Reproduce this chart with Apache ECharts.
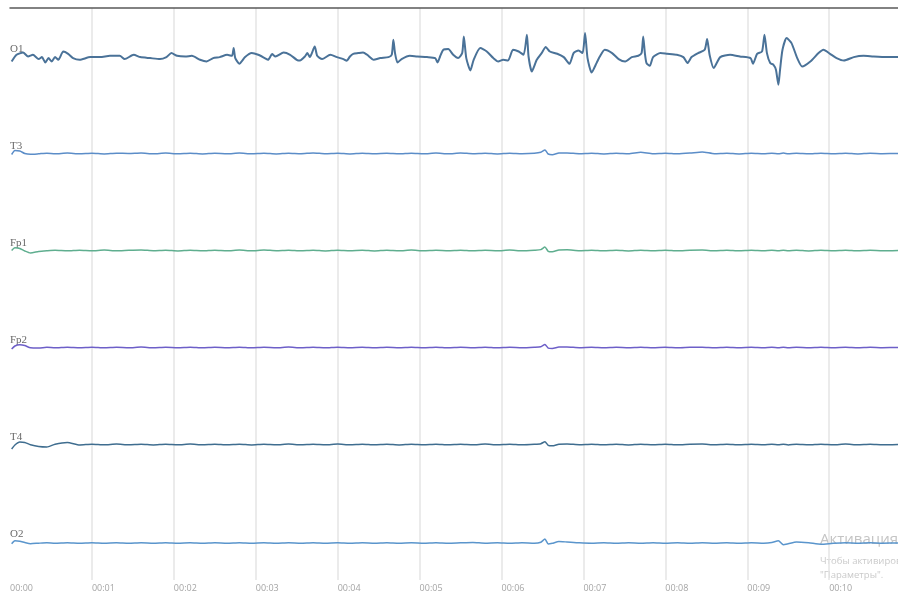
<!DOCTYPE html>
<html>
<head>
<meta charset="utf-8">
<script src="https://cdn.jsdelivr.net/npm/echarts@6/dist/echarts.min.js"></script>
<style>
html,body{margin:0;padding:0;background:#fff;}
#chart{width:898px;height:591px;}
</style>
</head>
<body>
<div id="chart"></div>
<script>
// Channel names (top to bottom)
const channels = ['O1', 'T3', 'Fp1', 'Fp2', 'T4', 'O2'];
const channelColors = ['#4a7298', '#5b8dc8', '#5fae8f', '#6d5fc8', '#3f6d8f', '#5a95cc'];

// Time tick labels (seconds)
const tickSeconds = [0, 1, 2, 3, 4, 5, 6, 7, 8, 9, 10];

// O1 samples: [time s, amplitude]
const o1Samples = [
  [0.02,-5],[0.08,1.7],[0.16,4],[0.22,0],[0.28,1.7],[0.35,-2.6],[0.39,-0.6],[0.43,-6],[0.47,-1.6],[0.51,-5],
  [0.55,-0.6],[0.59,-3.3],[0.65,5],[0.71,2.7],[0.77,-1.6],[0.85,-3.3],[0.98,-0.6],[1.10,-0.6],[1.22,0.7],[1.34,0.7],
  [1.40,-2.6],[1.51,1.7],[1.59,-0.6],[1.71,-1.6],[1.83,-2.6],[1.91,-0.6],[1.97,3.4],[2.04,0.7],[2.14,0],[2.22,0.7],
  [2.32,-3.3],[2.40,-5],[2.48,-1.6],[2.56,-0.6],[2.65,1.7],[2.71,0.7],[2.73,8.4],[2.75,-1.6],[2.80,-7.3],[2.87,-0.6],
  [2.95,3.4],[3.03,1.7],[3.11,-1.6],[3.15,-3.3],[3.20,2.4],[3.24,0],[3.34,4],[3.42,1.7],[3.50,-3.3],[3.54,-4],
  [3.60,0],[3.63,3.4],[3.66,-0.6],[3.72,10],[3.75,0.7],[3.81,-2.6],[3.91,1.7],[3.99,-0.6],[4.07,-2.6],[4.11,-4.3],
  [4.15,0],[4.19,2.7],[4.25,3.4],[4.31,4],[4.36,1.7],[4.44,-3.3],[4.52,-1.6],[4.62,-0.6],[4.66,1.7],[4.68,16.7],
  [4.70,3.4],[4.73,-6],[4.78,-2.6],[4.88,0.7],[4.97,0],[5.09,-0.6],[5.19,-1.6],[5.22,-6],[5.25,0],[5.29,6.7],
  [5.35,7.4],[5.41,1.7],[5.47,-1.6],[5.52,3.4],[5.54,20],[5.57,-1.6],[5.62,-14],[5.66,-3.3],[5.74,8.4],[5.82,5],
  [5.90,-1.6],[5.96,-5],[6.02,-3.3],[6.08,-4],[6.14,6.7],[6.21,5],[6.27,1.7],[6.31,21.7],[6.33,0],[6.37,-15],
  [6.43,-3.3],[6.49,3.4],[6.54,9.4],[6.59,5],[6.68,2.7],[6.76,-0.6],[6.83,-7.3],[6.88,3.4],[6.94,6],[6.99,3.4],
  [7.02,23.4],[7.05,-1.6],[7.10,-16],[7.16,-6.6],[7.20,0],[7.26,6.7],[7.35,3.4],[7.43,-2.6],[7.51,-5],[7.59,-0.6],
  [7.67,0.7],[7.71,3.4],[7.73,20],[7.75,3.4],[7.77,-6.6],[7.81,-9.3],[7.85,-0.6],[7.94,3.4],[8.02,2.7],[8.14,1.7],
  [8.22,-0.6],[8.27,-6.6],[8.32,-0.6],[8.40,3.4],[8.48,6.7],[8.51,17.4],[8.54,1.7],[8.59,-11.6],[8.67,-0.6],[8.79,1.7],
  [8.91,0],[9.04,-1.6],[9.07,-7.3],[9.12,2.7],[9.18,5],[9.21,21.7],[9.24,3.4],[9.28,-6.6],[9.32,-8.3],[9.35,-13.3],
  [9.38,-28.3],[9.40,-13.3],[9.43,6.7],[9.48,18.4],[9.54,13.4],[9.61,-1.6],[9.67,-10],[9.77,-5],[9.87,3.4],[9.93,6.7],
  [10.01,2.7],[10.09,-1.6],[10.18,-4],[10.30,-0.6],[10.42,0.7],[10.54,0],[10.70,-0.6],[10.84,-0.6]
];

// Shared sample times (s) for the quieter channels
const baseTimes = [
  0.02,0.06,0.12,0.18,0.25,0.35,0.45,0.55,0.7,0.85,
  1.0,1.15,1.3,1.45,1.6,1.75,1.9,2.05,2.2,2.35,
  2.5,2.65,2.8,2.95,3.1,3.25,3.4,3.55,3.7,3.85,
  4.0,4.15,4.3,4.45,4.6,4.75,4.9,5.05,5.2,5.35,
  5.5,5.65,5.8,5.95,6.1,6.25,6.4,6.48,6.53,6.57,
  6.62,6.7,6.8,6.95,7.1,7.25,7.4,7.55,7.7,7.85,
  8.0,8.15,8.3,8.45,8.6,8.75,8.9,9.05,9.2,9.3,
  9.38,9.44,9.5,9.6,9.75,9.9,10.05,10.2,10.35,10.5,
  10.65,10.84
];

const t3Values = [
  -1,3,2.5,0,-0.8,-0.3,0.3,-0.2,0.4,-0.3,
  0.2,-0.4,0.3,0,0.5,-0.3,0.4,-0.2,0.3,-0.4,
  0.2,-0.2,0.4,-0.3,0.2,-0.4,0.3,-0.2,0.6,-0.3,
  0.2,-0.4,0.3,-0.2,0.2,-0.3,0.3,-0.2,0.4,-0.3,
  0.5,-0.2,0.3,-0.4,0.3,-0.2,0.2,1.2,3.5,-0.5,
  -1.2,0.4,0.6,-0.2,0.3,-0.4,0.2,-0.3,1.2,-0.2,
  0.3,-0.3,0.4,1.5,-0.2,0.3,-0.4,0.2,-0.3,0.3,
  -0.2,0.4,-0.3,0.2,-0.3,0.3,-0.2,0.3,-0.4,0.2,
  -0.2,0
];

const fp1Values = [
  0,2.7,2,-0.5,-2.5,-1,-0.3,0.2,-0.3,0.3,
  -0.2,0.4,-0.3,0.2,0.5,-0.2,0.3,-0.4,0.2,-0.3,
  0.3,-0.2,0.4,-0.3,0.5,-0.2,0.3,-0.3,0.2,-0.4,
  0.3,-0.2,0.2,-0.4,0.3,-0.2,0.4,-0.3,0.2,-0.2,
  0.3,-0.3,0.2,-0.2,0.4,-0.3,0.3,0.9,3.5,-0.8,
  -1.2,0.5,0.7,-0.2,0.3,-0.3,0.2,-0.4,0.3,-0.2,
  0.3,-0.3,0.2,0.4,-0.2,0.3,-0.3,0.2,-0.3,0.3,
  -0.2,0.3,-0.3,0.2,-0.4,0.3,-0.2,0.3,-0.3,0.2,
  -0.2,0.1
];

const fp2Values = [
  -1.5,1.5,2.8,2,-0.3,-0.5,0.2,-0.3,0.3,-0.2,
  0.3,-0.3,0.2,-0.2,0.4,-0.3,0.2,-0.2,0.3,-0.3,
  0.2,-0.2,0.3,-0.3,0.2,-0.2,0.4,-0.3,0.2,-0.3,
  0.3,-0.2,0.2,-0.3,0.2,-0.2,0.3,-0.2,0.3,-0.3,
  0.2,-0.2,0.3,-0.3,0.2,-0.2,0.3,0.8,3,-0.6,
  -1,0.4,0.5,-0.2,0.2,-0.3,0.2,-0.2,0.3,-0.2,
  0.2,-0.3,0.2,0.3,-0.2,0.3,-0.2,0.2,-0.3,0.2,
  -0.2,0.2,-0.3,0.2,-0.2,0.3,-0.2,0.2,-0.3,0.2,
  -0.2,0
];

const t4Values = [
  -4.5,-0.5,2.5,2,-0.2,-2,-2.5,0.3,2,-0.5,
  0.3,-0.3,0.4,-0.2,0.3,-0.4,0.2,-0.3,0.4,-0.2,
  0.3,-0.3,0.2,-0.4,0.3,-0.2,0.4,-0.3,0.2,-0.3,
  0.4,-0.2,0.3,-0.3,0.2,-0.4,0.3,-0.2,0.3,-0.3,
  0.2,-0.3,0.4,-0.2,0.3,-0.3,0.2,0.8,2.8,-0.8,
  -1.3,0.3,0.5,-0.2,0.3,-0.3,0.2,-0.4,0.3,-0.2,
  0.3,-0.3,0.2,0.4,-0.2,0.3,-0.3,0.2,-0.3,0.3,
  -0.2,0.3,-0.4,0.2,-0.3,0.3,-0.2,0.4,-0.3,0.2,
  -0.3,0
];

const o2Values = [
  -0.7,2.3,1.8,0.5,-0.7,-0.2,0.2,-0.2,0.3,-0.2,
  0.3,-0.2,0.2,-0.3,0.2,-0.2,0.3,-0.2,0.2,-0.3,
  0.2,-0.2,0.3,-0.2,0.2,-0.3,0.2,-0.2,0.3,-0.2,
  0.2,-0.3,0.2,-0.2,0.3,-0.2,0.2,-0.2,0.3,-0.2,
  0.2,0.5,-0.2,0.2,-0.3,0.2,-0.2,0.8,4,-1,
  -0.3,1.5,1,0.2,-0.2,0.2,-0.3,0.2,-0.2,0.3,
  -0.2,0.2,-0.3,0.2,-0.2,0.2,-0.3,0.2,-0.2,0.5,
  2.3,-1.8,-0.8,1,0.2,-1.2,-0.3,0.2,-0.2,0.2,
  -0.2,0
];

const watermarkLines = ['Активация Windows', 'Чтобы активировать Windows, перейдите в раздел', '"Параметры".'];

const seriesData = [
  o1Samples,
  baseTimes.map((t, i) => [t, t3Values[i]]),
  baseTimes.map((t, i) => [t, fp1Values[i]]),
  baseTimes.map((t, i) => [t, fp2Values[i]]),
  baseTimes.map((t, i) => [t, t4Values[i]]),
  baseTimes.map((t, i) => [t, o2Values[i]])
];

const TOP = 8, ROW = 97, LEFT = 10;
const grids = [], xAxes = [], yAxes = [], series = [], graphics = [];
const tMax = 10.84;

channels.forEach((name, i) => {
  const last = i === channels.length - 1;
  const top = TOP + ROW * i;
  const height = last ? 87 : ROW;
  grids.push({ left: LEFT, right: 0, top: top, height: height, outerBoundsMode: 'none' });
  xAxes.push({
    type: 'value', gridIndex: i, min: 0, max: tMax, interval: 1,
    position: i === 0 ? 'top' : 'bottom',
    axisLine: { show: i === 0, onZero: false, lineStyle: { color: '#5a5a5a', width: 1.5 } },
    axisTick: { show: false },
    axisLabel: {
      show: last, align: 'left', margin: 4, fontSize: 9, color: '#a5a5a5',
      fontFamily: 'Open Sans, sans-serif', showMaxLabel: false, hideOverlap: false,
      formatter: v => tickSeconds.includes(v) ? '00:' + String(v).padStart(2, '0') : ''
    },
    splitLine: { show: true, showMinLine: false, showMaxLine: false, lineStyle: { color: '#e4e4e4', width: 1.5 } }
  });
  yAxes.push({
    type: 'value', gridIndex: i,
    min: last ? -37 : -48.5, max: last ? 50 : 48.5,
    show: false
  });
  series.push({
    name: name, type: 'line', xAxisIndex: i, yAxisIndex: i,
    data: seriesData[i], showSymbol: false, smooth: 0.2,
    lineStyle: { color: channelColors[i], width: i === 0 ? 2 : 1.5 },
    itemStyle: { color: channelColors[i] },
    silent: true, clip: true
  });
  graphics.push({
    type: 'text', left: LEFT, top: top + 48.5 - 12.5,
    style: { text: name, fill: '#6a6a6a', font: '11px "Liberation Serif", serif' }
  });
});

graphics.push(
  { type: 'text', left: 820, top: 532, style: { text: watermarkLines[0], fill: '#c4c4c4', font: '15px "Open Sans", sans-serif' } },
  { type: 'text', left: 820, top: 556, style: { text: watermarkLines[1], fill: '#cacaca', font: '9.5px "Open Sans", sans-serif' } },
  { type: 'text', left: 820, top: 570, style: { text: watermarkLines[2], fill: '#cacaca', font: '9.5px "Open Sans", sans-serif' } }
);

const chart = echarts.init(document.getElementById('chart'), null, { renderer: 'canvas' });
chart.setOption({
  animation: false,
  backgroundColor: '#ffffff',
  grid: grids,
  xAxis: xAxes,
  yAxis: yAxes,
  series: series,
  graphic: graphics
});
</script>
</body>
</html>
